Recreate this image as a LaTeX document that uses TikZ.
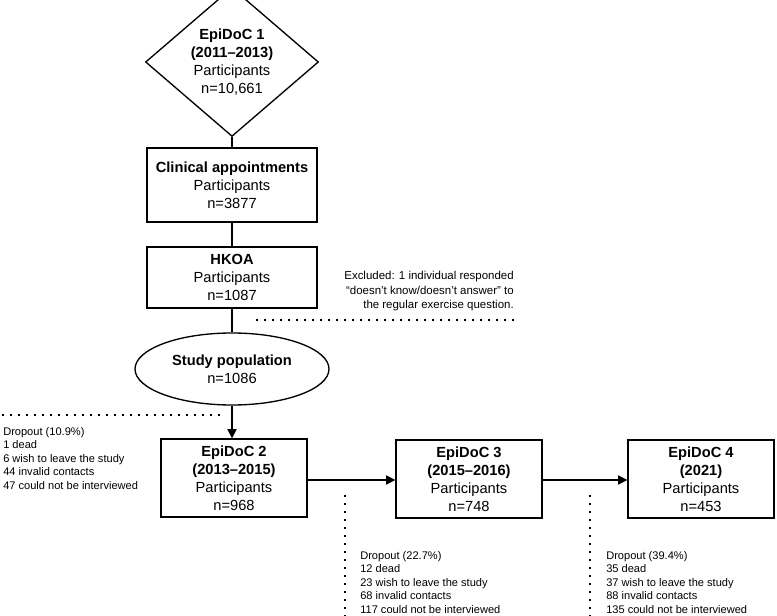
\documentclass[tikz,border=0pt]{standalone}
\usepackage{fontspec}
\setmainfont{Liberation Sans}
\usetikzlibrary{shapes.geometric,arrows.meta}
\begin{document}
\begin{tikzpicture}[x=0.75pt,y=-0.75pt,
  box/.style={draw,line width=1pt,minimum width=170*0.75pt,align=center,inner sep=0pt,font=\fontsize{11}{13.5}\selectfont},
  sbox/.style={box,minimum width=146*0.75pt,minimum height=78*0.75pt},
  note/.style={align=left,inner sep=0pt,anchor=north west,font=\fontsize{8.3}{10.1}\selectfont},
  dot/.style={line width=1.5pt,dash pattern=on 1.5pt off 4.5pt},
  conn/.style={line width=1pt},
  arr/.style={conn,-{Triangle[length=7pt,width=7pt]}}]
\useasboundingbox (0,0) rectangle (777,616);
\node[draw,line width=1pt,diamond,minimum width=173*0.75pt,minimum height=124*0.75pt,inner sep=0pt,align=center,font=\fontsize{11}{13.5}\selectfont] (d) at (232,62) {\textbf{EpiDoC 1}\\\textbf{(2011–2013)}\\Participants\\n=10,661};
\node[box,minimum height=74*0.75pt] (c) at (232,185) {\textbf{Clinical appointments}\\Participants\\n=3877};
\node[box,minimum height=61*0.75pt] (h) at (232,277.5) {\textbf{HKOA}\\Participants\\n=1087};
\node[draw,line width=1pt,ellipse,minimum width=194*0.75pt,minimum height=72*0.75pt,inner sep=0pt,align=center,font=\fontsize{11}{13.5}\selectfont] (s) at (232,369) {\textbf{Study population}\\n=1086};
\node[sbox] (e2) at (234,478) {\textbf{EpiDoC 2}\\\textbf{(2013–2015)}\\Participants\\n=968};
\node[sbox] (e3) at (469,479) {\textbf{EpiDoC 3}\\\textbf{(2015–2016)}\\Participants\\n=748};
\node[sbox] (e4) at (701,479) {\textbf{EpiDoC 4}\\\textbf{(2021)}\\Participants\\n=453};
\draw[conn] (d) -- (c);
\draw[conn] (c) -- (h);
\draw[conn] (h) -- (s);
\draw[arr] (s) -- (s|-e2.north);
\draw[arr] (e2.east|-0,480) -- (e3.west|-0,480);
\draw[arr] (e3.east|-0,480) -- (e4.west|-0,480);
\coordinate (x1) at (256,320); \coordinate (x2) at (514,320);
\draw[dot] (x1) -- (x2);
\node[align=right,inner sep=0pt,anchor=north east,font=\fontsize{8.6}{11}\selectfont] (xt) at (514,271) {Excluded: 1 individual responded\\“doesn’t know/doesn’t answer” to\\the regular exercise question.};
\coordinate (l1) at (2,415); \coordinate (l2) at (222,415);
\draw[dot] (l1) -- (l2);
\node[note] (n2) at (3,427) {Dropout (10.9\%)\\1 dead\\6 wish to leave the study\\44 invalid contacts\\47 could not be interviewed};
\coordinate (v1) at (345,495); \coordinate (v2) at (345,616);
\draw[dot] (v1) -- (v2);
\node[note] (n3) at (360,551) {Dropout (22.7\%)\\12 dead\\23 wish to leave the study\\68 invalid contacts\\117 could not be interviewed};
\coordinate (w1) at (590,495); \coordinate (w2) at (590,616);
\draw[dot] (w1) -- (w2);
\node[note] (n4) at (606,551) {Dropout (39.4\%)\\35 dead\\37 wish to leave the study\\88 invalid contacts\\135 could not be interviewed};
\end{tikzpicture}
\end{document}
